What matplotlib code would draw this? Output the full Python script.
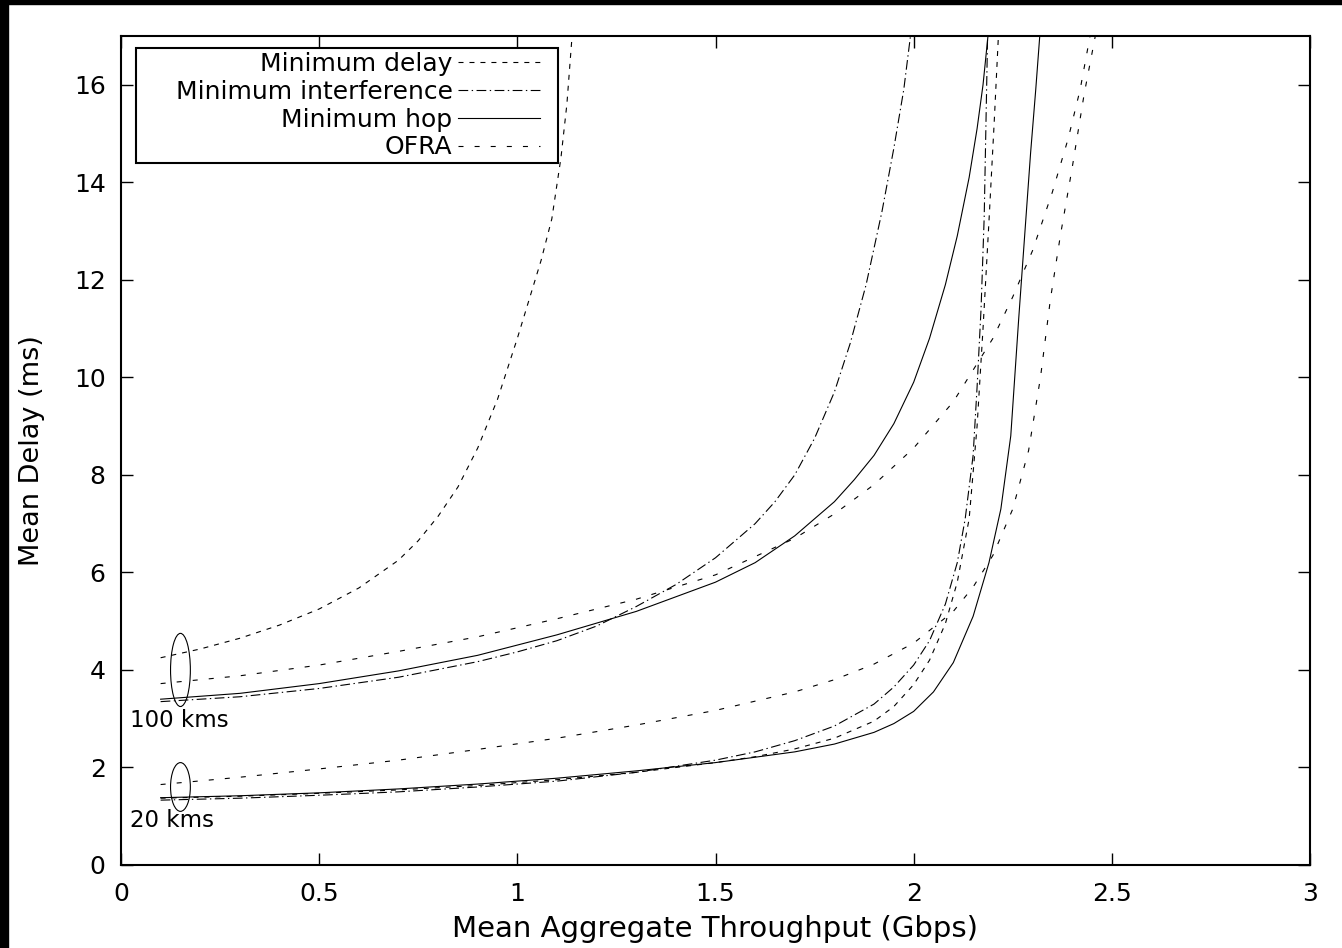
import numpy as np
import matplotlib
matplotlib.use("Agg")
import matplotlib.pyplot as plt
from matplotlib.patches import Ellipse, Rectangle

plt.rcParams['font.family'] = ['DejaVu Sans']
plt.rcParams['lines.scale_dashes'] = False

# 100 kms curves
dly100_x = [0.1, 0.2, 0.3, 0.4, 0.5, 0.6, 0.7, 0.75, 0.8, 0.85, 0.9, 0.95, 1.0, 1.03, 1.06, 1.087, 1.11, 1.125, 1.14]
dly100_y = [4.25, 4.43, 4.65, 4.92, 5.25, 5.68, 6.25, 6.65, 7.15, 7.75, 8.55, 9.55, 10.8, 11.6, 12.4, 13.25, 14.5, 15.6, 17.2]

int100_x = [0.1, 0.3, 0.5, 0.7, 0.9, 1.0, 1.1, 1.2, 1.3, 1.4, 1.5, 1.6, 1.65, 1.7, 1.75, 1.8, 1.84, 1.88, 1.92, 1.95, 1.975, 1.995]
int100_y = [3.35, 3.45, 3.62, 3.85, 4.17, 4.37, 4.6, 4.9, 5.3, 5.75, 6.3, 7.0, 7.45, 8.0, 8.75, 9.7, 10.7, 11.9, 13.4, 14.7, 15.9, 17.2]

hop100_x = [0.1, 0.3, 0.5, 0.7, 0.9, 1.1, 1.3, 1.5, 1.6, 1.7, 1.8, 1.85, 1.9, 1.95, 2.0, 2.04, 2.08, 2.11, 2.14, 2.16, 2.175, 2.19]
hop100_y = [3.4, 3.52, 3.72, 3.98, 4.3, 4.72, 5.2, 5.8, 6.2, 6.75, 7.45, 7.9, 8.4, 9.05, 9.9, 10.8, 11.9, 12.9, 14.1, 15.1, 16.0, 17.2]

ofra100_x = [0.1, 0.3, 0.5, 0.7, 0.9, 1.1, 1.3, 1.5, 1.7, 1.8, 1.9, 2.0, 2.1, 2.2, 2.25, 2.3, 2.35, 2.39, 2.42, 2.445, 2.452]
ofra100_y = [3.72, 3.88, 4.1, 4.38, 4.68, 5.05, 5.45, 5.95, 6.7, 7.2, 7.8, 8.55, 9.5, 10.8, 11.65, 12.6, 13.8, 14.9, 15.9, 17.0, 17.2]

# 20 kms curves
dly20_x = [0.1, 0.3, 0.5, 0.7, 0.9, 1.1, 1.3, 1.5, 1.6, 1.7, 1.8, 1.9, 1.95, 2.0, 2.04, 2.08, 2.11, 2.14, 2.16, 2.175, 2.19, 2.203, 2.215]
dly20_y = [1.37, 1.41, 1.47, 1.54, 1.63, 1.75, 1.9, 2.1, 2.22, 2.38, 2.6, 2.95, 3.25, 3.7, 4.2, 4.95, 5.8, 7.1, 9.0, 11.0, 13.2, 15.2, 17.2]

int20_x = [0.1, 0.3, 0.5, 0.7, 0.9, 1.1, 1.3, 1.5, 1.6, 1.7, 1.8, 1.9, 1.95, 2.0, 2.04, 2.08, 2.11, 2.13, 2.15, 2.16, 2.17, 2.178, 2.187]
int20_y = [1.33, 1.37, 1.43, 1.5, 1.6, 1.72, 1.9, 2.15, 2.32, 2.55, 2.85, 3.3, 3.65, 4.1, 4.6, 5.35, 6.2, 7.1, 8.4, 9.8, 11.4, 13.3, 17.2]

hop20_x = [0.1, 0.3, 0.5, 0.7, 0.9, 1.1, 1.3, 1.5, 1.7, 1.8, 1.9, 1.95, 2.0, 2.05, 2.1, 2.15, 2.19, 2.22, 2.245, 2.265, 2.28, 2.295, 2.308, 2.32]
hop20_y = [1.38, 1.42, 1.48, 1.56, 1.66, 1.78, 1.93, 2.1, 2.32, 2.48, 2.72, 2.9, 3.15, 3.55, 4.15, 5.1, 6.2, 7.3, 8.8, 11.2, 12.9, 14.6, 15.9, 17.2]

ofra20_x = [0.1, 0.3, 0.5, 0.7, 0.9, 1.1, 1.3, 1.5, 1.7, 1.8, 1.9, 2.0, 2.1, 2.15, 2.2, 2.25, 2.29, 2.32, 2.345, 2.37, 2.4, 2.43, 2.463]
ofra20_y = [1.65, 1.8, 1.97, 2.15, 2.37, 2.6, 2.87, 3.17, 3.55, 3.8, 4.12, 4.55, 5.2, 5.7, 6.35, 7.3, 8.5, 10.0, 11.6, 12.9, 14.3, 15.8, 17.2]

labels = ["Minimum delay", "Minimum interference", "Minimum hop", "OFRA"]

dash_delay = (0, (3.6, 4.3))
dash_int = (0, (7.0, 2.5, 1.0, 2.5))
dash_hop = '-'
dash_ofra = (0, (3.6, 8.0))
lw = 0.8

fig = plt.figure(figsize=(13.42, 9.48), dpi=100)
ax = fig.add_axes([121 / 1342, 1 - 865 / 948, 1189 / 1342, 829 / 948])

ax.plot(dly100_x, dly100_y, color='black', lw=lw, linestyle=dash_delay, label=labels[0])
ax.plot(int100_x, int100_y, color='black', lw=lw, linestyle=dash_int, label=labels[1])
ax.plot(hop100_x, hop100_y, color='black', lw=lw, linestyle=dash_hop, label=labels[2])
ax.plot(ofra100_x, ofra100_y, color='black', lw=lw, linestyle=dash_ofra, label=labels[3])

ax.plot(dly20_x, dly20_y, color='black', lw=lw, linestyle=dash_delay)
ax.plot(int20_x, int20_y, color='black', lw=lw, linestyle=dash_int)
ax.plot(hop20_x, hop20_y, color='black', lw=lw, linestyle=dash_hop)
ax.plot(ofra20_x, ofra20_y, color='black', lw=lw, linestyle=dash_ofra)

# group markers
ax.add_patch(Ellipse((0.15, 4.0), 0.05, 1.5, fill=False, color='black', lw=0.8))
ax.add_patch(Ellipse((0.15, 1.6), 0.05, 1.0, fill=False, color='black', lw=0.8))
ax.text(0.022, 2.97, "100 kms", fontsize=16.5, va='center', ha='left')
ax.text(0.022, 0.92, "20 kms", fontsize=16.5, va='center', ha='left')

ax.set_xlim(0, 3)
ax.set_ylim(0, 17)
ax.set_xticks([0, 0.5, 1, 1.5, 2, 2.5, 3])
ax.set_xticklabels(["0", "0.5", "1", "1.5", "2", "2.5", "3"])
ax.set_yticks([0, 2, 4, 6, 8, 10, 12, 14, 16])
ax.tick_params(direction='in', length=8.6, width=1.0, top=True, right=True,
               labelsize=18)
ax.tick_params(axis='x', pad=12)
ax.tick_params(axis='y', pad=11)
for s in ax.spines.values():
    s.set_linewidth(1.5)

ax.set_xlabel("Mean Aggregate Throughput (Gbps)", fontsize=21, labelpad=7)
ax.set_ylabel("Mean Delay (ms)", fontsize=19.5, labelpad=21)

# legend box drawn as a plain rectangle, gnuplot style
ax.add_patch(Rectangle((15 / 1189, 1 - 127 / 829), 422 / 1189, 115 / 829,
                       transform=ax.transAxes, facecolor='white', edgecolor='black',
                       lw=1.5, zorder=4.9))
leg = ax.legend(loc='upper right', bbox_to_anchor=(419 / 1189, 1 - 16 / 829),
                borderaxespad=0, borderpad=0, markerfirst=False, frameon=False,
                fontsize=18, handlelength=3.3, handletextpad=0.2, labelspacing=0.15)

# dark strips along the top and left edges
fig.patches.append(Rectangle((0, 1 - 4 / 948), 1, 4 / 948, transform=fig.transFigure,
                             color='black', zorder=10))
fig.patches.append(Rectangle((0, 0), 8 / 1342, 1, transform=fig.transFigure,
                             color='black', zorder=10))

fig.savefig("out.png", dpi=100)
